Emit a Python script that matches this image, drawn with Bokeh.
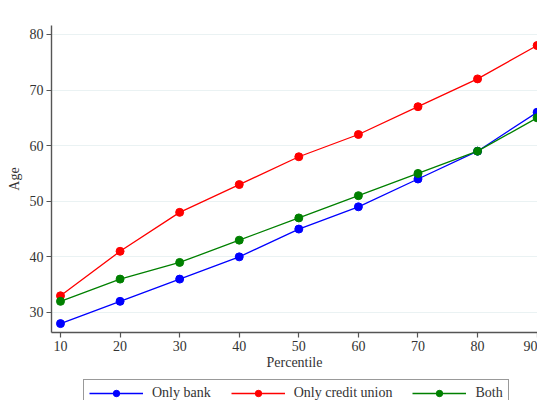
from bokeh.plotting import figure
from bokeh.models import Range1d, Legend, LegendItem, FixedTicker
from bokeh.layouts import column
from bokeh.embed import file_html
from bokeh.resources import INLINE

percentile = [10, 20, 30, 40, 50, 60, 70, 80, 90]
only_bank = [28, 32, 36, 40, 45, 49, 54, 59, 66]
only_cu = [33, 41, 48, 53, 58, 62, 67, 72, 78]
both = [32, 36, 39, 43, 47, 51, 55, 59, 65]
y_ticks = [30, 40, 50, 60, 70, 80]
x_ticks = [10, 20, 30, 40, 50, 60, 70, 80, 90]
series_names = ["Only bank", "Only credit union", "Both"]
series_colors = ["#0000ff", "#ff0000", "#008000"]

FONT = "Liberation Serif"
FS = "14px"

p = figure(width=537, height=373, output_backend="svg", toolbar_location=None,
           x_range=Range1d(8.49, 90.06), y_range=Range1d(26.4, 81.6),
           min_border_left=51, min_border_top=25, min_border_right=0, min_border_bottom=41)
p.outline_line_color = None
p.background_fill_color = "white"
p.border_fill_color = "white"

p.xgrid.grid_line_color = None
p.ygrid.grid_line_color = "#eaf2f3"
p.ygrid.grid_line_width = 1

for ax in (p.xaxis[0], p.yaxis[0]):
    ax.axis_line_color = "#555555"
    ax.axis_line_width = 1.4
    ax.major_tick_line_color = "#555555"
    ax.major_tick_line_width = 1.2
    ax.major_tick_out = 5
    ax.major_tick_in = 0
    ax.minor_tick_line_color = None
    ax.major_label_text_font = FONT
    ax.major_label_text_font_size = FS
    ax.major_label_text_color = "#333333"
    ax.axis_label_text_font = FONT
    ax.axis_label_text_font_size = FS
    ax.axis_label_text_font_style = "normal"
    ax.axis_label_text_color = "#333333"
    ax.major_label_standoff = 3

p.xaxis[0].ticker = FixedTicker(ticks=x_ticks)
p.yaxis[0].ticker = FixedTicker(ticks=y_ticks)
p.xaxis[0].axis_label = "Percentile"
p.yaxis[0].axis_label = "Age"
p.xaxis[0].axis_label_standoff = 1
p.yaxis[0].axis_label_standoff = 5
p.yaxis[0].major_label_orientation = "horizontal"

for vals, col in zip([only_bank, only_cu, both], series_colors):
    p.line(percentile, vals, line_color=col, line_width=1.3)
    p.scatter(percentile, vals, size=8, fill_color=col, line_color=col)

# legend strip (separate figure so the box can run off the bottom edge like the reference)
q = figure(width=537, height=27, output_backend="svg", toolbar_location=None,
           x_range=Range1d(0, 1), y_range=Range1d(0, 1),
           min_border_left=0, min_border_right=0, min_border_top=0, min_border_bottom=0)
q.axis.visible = False
q.grid.visible = False
q.outline_line_color = None
q.border_fill_color = "white"
items = []
for name, col in zip(series_names, series_colors):
    l = q.line([-10, -9], [-10, -9], line_color=col, line_width=1.3)
    s = q.scatter([-10], [-10], size=8, fill_color=col, line_color=col)
    items.append(LegendItem(label=name, renderers=[l, s]))

legend = Legend(items=items, orientation="horizontal", location=(32, -7),
                glyph_width=54, glyph_height=16, label_height=16, label_standoff=9,
                spacing=20, padding=5, margin=0,
                border_line_color="#333333", border_line_width=1,
                label_text_font=FONT, label_text_font_size=FS,
                label_text_color="#333333", background_fill_alpha=1)
q.add_layout(legend, "center")

open("out.html", "w").write(file_html(column(p, q, spacing=0), INLINE))
